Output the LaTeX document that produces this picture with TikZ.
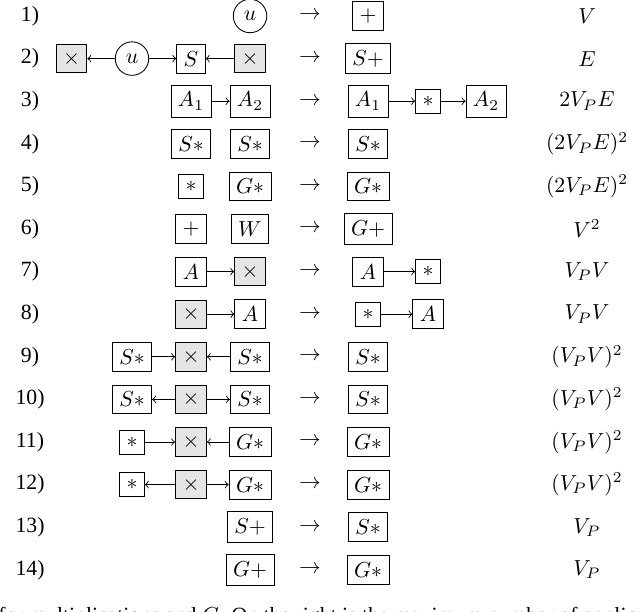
\documentclass[tikz,border=0pt]{standalone}
\usepackage[no-math]{fontspec}
\setmainfont{Liberation Serif}
\begin{document}
\begin{tikzpicture}[x=0.46pt,y=-0.46pt,
  bx/.style={draw, rectangle, inner sep=3.2pt},
  gx/.style={bx, fill=black!10},
  el/.style={draw, circle, inner sep=2pt, minimum size=15.4pt},
  lk/.style={->},
  lbl/.style={inner sep=0pt},
  arr/.style={inner sep=0pt},
  val/.style={inner sep=0pt}]
\useasboundingbox (0,0) rectangle (640,611);
% row labels, arrows, values
\foreach \i/\v [evaluate=\i as \y using 16+(\i-1)*42.6] in
  {1/{$V$},2/{$E$},3/{$2V_PE$},4/{$(2V_PE)^2$},5/{$(2V_PE)^2$},6/{$V^2$},
   7/{$V_PV$},8/{$V_PV$},9/{$(V_PV)^2$},10/{$(V_PV)^2$},11/{$(V_PV)^2$},
   12/{$(V_PV)^2$},13/{$V_P$},14/{$V_P$}}{
  \node[lbl] (lab\i) at (30,\y) {\i)};
  \node[arr] (to\i) at (310,\y) {$\rightarrow$};
  \node[val] (val\i) at (587,\y) {\v};
}
% row 1
\node[el] (u1) at (250,16) {$u$};
\node[bx] (r1) at (368,16) {$+$};
% row 2
\node[gx] (x2a) at (71.5,58.6) {$\times$};
\node[el] (u2) at (132,58.6) {$u$};
\node[bx] (s2) at (191,58.6) {$S$};
\node[gx] (x2b) at (250,58.6) {$\times$};
\draw[lk] (u2) -- (x2a);
\draw[lk] (u2) -- (s2);
\draw[lk] (x2b) -- (s2);
\node[bx] (r2) at (368,58.6) {$S+$};
% row 3
\node[bx] (a31) at (191,101.2) {$A_1$};
\node[bx] (a32) at (250,101.2) {$A_2$};
\draw[lk] (a31) -- (a32);
\node[bx] (r3a) at (368,101.2) {$A_1$};
\node[bx] (r3b) at (428,101.2) {$*$};
\node[bx] (r3c) at (486,101.2) {$A_2$};
\draw[lk] (r3a) -- (r3b);
\draw[lk] (r3b) -- (r3c);
% row 4
\node[bx] (s41) at (191,143.8) {$S*$};
\node[bx] (s42) at (250,143.8) {$S*$};
\node[bx] (r4) at (368,143.8) {$S*$};
% row 5
\node[bx] (m5) at (191,186.4) {$*$};
\node[bx] (g5) at (250,186.4) {$G*$};
\node[bx] (r5) at (368,186.4) {$G*$};
% row 6
\node[bx] (p6) at (191,229) {$+$};
\node[bx] (w6) at (250,229) {$W$};
\node[bx] (r6) at (368,229) {$G+$};
% row 7
\node[bx] (a7) at (191,271.6) {$A$};
\node[gx] (x7) at (250,271.6) {$\times$};
\draw[lk] (a7) -- (x7);
\node[bx] (r7a) at (368,271.6) {$A$};
\node[bx] (r7b) at (428,271.6) {$*$};
\draw[lk] (r7a) -- (r7b);
% row 8
\node[gx] (x8) at (191,314.2) {$\times$};
\node[bx] (a8) at (250,314.2) {$A$};
\draw[lk] (x8) -- (a8);
\node[bx] (r8a) at (368,314.2) {$*$};
\node[bx] (r8b) at (428,314.2) {$A$};
\draw[lk] (r8a) -- (r8b);
% row 9
\node[bx] (s9a) at (132,356.8) {$S*$};
\node[gx] (x9) at (191,356.8) {$\times$};
\node[bx] (s9b) at (250,356.8) {$S*$};
\draw[lk] (s9a) -- (x9);
\draw[lk] (s9b) -- (x9);
\node[bx] (r9) at (368,356.8) {$S*$};
% row 10
\node[bx] (s10a) at (132,399.4) {$S*$};
\node[gx] (x10) at (191,399.4) {$\times$};
\node[bx] (s10b) at (250,399.4) {$S*$};
\draw[lk] (x10) -- (s10a);
\draw[lk] (x10) -- (s10b);
\node[bx] (r10) at (368,399.4) {$S*$};
% row 11
\node[bx] (m11) at (132,442) {$*$};
\node[gx] (x11) at (191,442) {$\times$};
\node[bx] (g11) at (250,442) {$G*$};
\draw[lk] (m11) -- (x11);
\draw[lk] (g11) -- (x11);
\node[bx] (r11) at (368,442) {$G*$};
% row 12
\node[bx] (m12) at (132,484.6) {$*$};
\node[gx] (x12) at (191,484.6) {$\times$};
\node[bx] (g12) at (250,484.6) {$G*$};
\draw[lk] (x12) -- (m12);
\draw[lk] (x12) -- (g12);
\node[bx] (r12) at (368,484.6) {$G*$};
% row 13
\node[bx] (s13) at (250,527.2) {$S+$};
\node[bx] (r13) at (368,527.2) {$S*$};
% row 14
\node[bx] (g14) at (250,569.8) {$G+$};
\node[bx] (r14) at (368,569.8) {$G*$};
% clipped caption line (cut by the lower edge, as in the reference)
\begin{scope}
\clip (0,0) rectangle (640,611);
\node[anchor=base west, inner sep=0pt] (cap) at (-2,622)
  {for multiplications and $G$. On the right is the maximum number of applications};
\end{scope}
\end{tikzpicture}
\end{document}
